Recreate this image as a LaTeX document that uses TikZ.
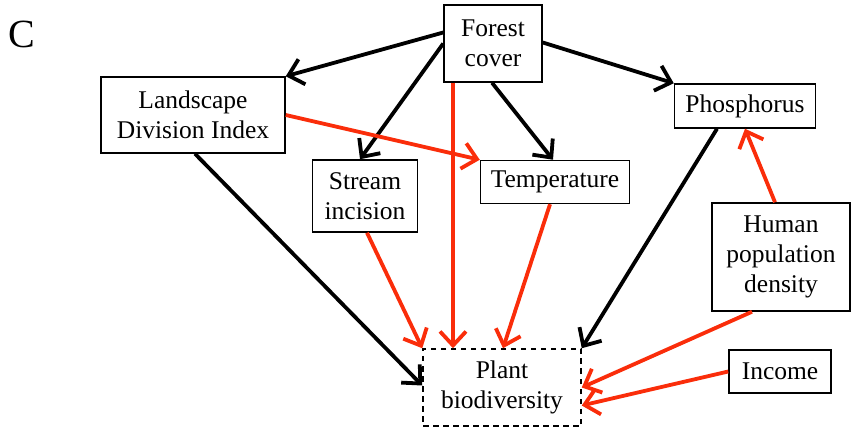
\documentclass[tikz,border=0pt]{standalone}
\usepackage{fontspec}
\setmainfont{Liberation Serif}
\usetikzlibrary{arrows.meta}

\definecolor{arrred}{RGB}{250,45,10}

\begin{document}
\begin{tikzpicture}[x=1pt, y=-1pt,
    box/.style={draw, line width=1.5pt, inner sep=0pt, align=center,
                font=\fontsize{25.5}{30}\selectfont},
    blackarr/.style={-{Straight Barb[length=14pt,width=26pt]}, line width=3.8pt},
    redarr/.style={blackarr, arrred}]
  \useasboundingbox (0,0) rectangle (851,427);

  \node[font=\fontsize{40}{42}\selectfont] (lab) at (22,34) {C};

  % nodes
  \node[box, minimum width=98pt, minimum height=77pt] (forest) at (493,43.5) {Forest\\cover};
  \node[box, minimum width=184pt, minimum height=76pt] (land) at (193,115) {Landscape\\Division Index};
  \node[box, minimum width=141pt, minimum height=44pt] (phos) at (745,106) {Phosphorus};
  \node[box, minimum width=105pt, minimum height=72pt] (stream) at (365,196) {Stream\\incision};
  \node[box, minimum width=149pt, minimum height=43pt] (temp) at (555,182) {Temperature};
  \node[box, minimum width=138pt, minimum height=108pt] (human) at (781,257) {Human\\population\\density};
  \node[box, dash pattern=on 5.5pt off 4.5pt, minimum width=158pt, minimum height=77pt] (plant) at (502,387.5) {Plant\\biodiversity};
  \node[box, minimum width=102pt, minimum height=43pt] (income) at (780,371.5) {Income};

  % forest cover effects
  \draw[blackarr] ([yshift=11pt]forest.west) -- (land.north east);
  \draw[blackarr] (forest.west) -- ([xshift=-5pt]stream.north);
  \draw[blackarr] ([xshift=-1pt]forest.south) -- ([xshift=-2pt]temp.north);
  \draw[blackarr] ([yshift=1pt]forest.east) -- (phos.north west);
  \draw[redarr] ([xshift=-40pt]forest.south) -- ([xshift=-49pt]plant.north);

  % landscape
  \draw[redarr] (land.east) -- (temp.north west);
  \draw[blackarr] ([xshift=2pt]land.south) -- ([yshift=2pt]plant.west);

  % into plant biodiversity
  \draw[redarr] ([xshift=2pt]stream.south) -- (plant.north west);
  \draw[redarr] ([xshift=-5pt]temp.south) -- ([xshift=1pt]plant.north);
  \draw[blackarr] ([xshift=-28pt]phos.south) -- (plant.north east);
  \draw[redarr] ([xshift=-6pt]human.north) -- (phos.south);
  \draw[redarr] ([xshift=-29pt]human.south) -- (plant.east);
  \draw[redarr] (income.west) -- ([yshift=-18pt]plant.east);
\end{tikzpicture}
\end{document}
